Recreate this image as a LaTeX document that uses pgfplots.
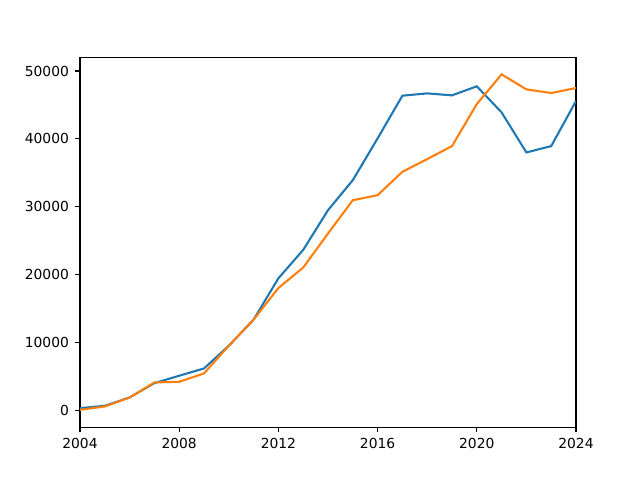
\documentclass[border=0pt]{standalone}
\usepackage{fontspec}
\setmainfont{DejaVu Sans}
\usepackage{pgfplots}
\pgfplotsset{compat=1.18}
\definecolor{mplblue}{HTML}{1F77B4}
\definecolor{mplorange}{HTML}{FF7F0E}
\begin{document}
\begin{tikzpicture}
\path[use as bounding box] (0,0) rectangle (460.8bp,345.6bp);
\begin{axis}[
  at={(57.6bp,38.016bp)}, anchor=south west,
  scale only axis, width=357.12bp, height=266.112bp,
  xmin=2004, xmax=2024, ymin=-2460, ymax=51970,
  xtick={2004,2008,2012,2016,2020,2024},
  ytick={0,10000,20000,30000,40000,50000},
  scaled y ticks=false,
  /pgf/number format/assume math mode=true,
  /pgf/number format/1000 sep={},
  ticklabel style={font=\fontsize{10}{12}\selectfont},
  tick align=outside, tick pos=left,
  major tick length=3.5bp,
  every tick/.style={line width=0.8bp, black},
  axis line style={line width=0.8bp},
  xticklabel style={yshift=-1bp},
  yticklabel style={xshift=-1bp},
]
\addplot[mplblue, line width=1.5bp] coordinates {
(2004,350) (2005,690) (2006,1920) (2007,4030) (2008,5120) (2009,6190) (2010,9540)
(2011,13380) (2012,19470) (2013,23650) (2014,29500) (2015,33920) (2016,40070)
(2017,46360) (2018,46700) (2019,46410) (2020,47740) (2021,43900) (2022,38000)
(2023,38940) (2024,45570)};
\addplot[mplorange, line width=1.5bp] coordinates {
(2004,100) (2005,590) (2006,1900) (2007,4130) (2008,4230) (2009,5460) (2010,9540)
(2011,13380) (2012,18040) (2013,21050) (2014,26060) (2015,30970) (2016,31710)
(2017,35150) (2018,37020) (2019,38940) (2020,45130) (2021,49500) (2022,47290)
(2023,46750) (2024,47490)};
\end{axis}
\end{tikzpicture}
\end{document}
